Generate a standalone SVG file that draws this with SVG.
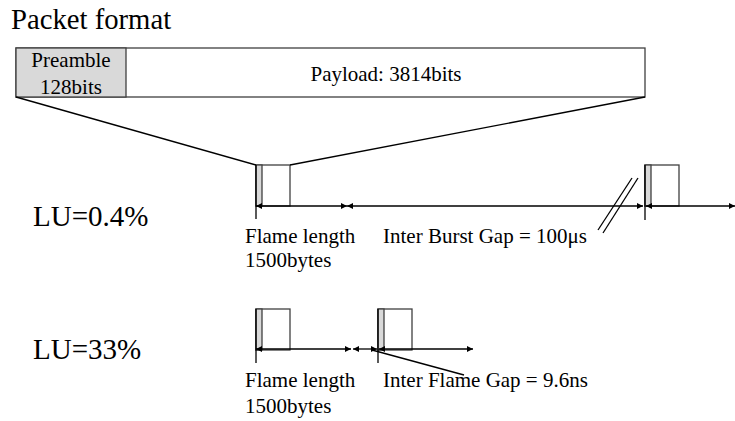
<svg xmlns="http://www.w3.org/2000/svg" width="735" height="421" viewBox="0 0 735 421">
<style>
.txt text{font-family:'Liberation Serif','DejaVu Serif',serif;fill:#000}
.s{font-size:21px}
.t{font-size:28.7px}
.u{font-size:29px}
.box{fill:#fff;stroke:#404040;stroke-width:1.3}
.pre{fill:#d9d9d9;stroke:#404040;stroke-width:1.3}
.ln{stroke:#000;stroke-width:1.3;fill:none}
.ar{stroke:#000;stroke-width:1.3;fill:none;marker-start:url(#ah);marker-end:url(#ah)}
</style>
<defs>
<marker id="ah" viewBox="0 0 10 10" refX="10" refY="5" markerWidth="7" markerHeight="6" markerUnits="userSpaceOnUse" orient="auto-start-reverse">
<path d="M0,0 L10,5 L0,10 z" fill="#000"/>
</marker>
<g id="frame">
<rect class="box" x="0" y="0" width="34" height="41"/>
<rect class="pre" x="0" y="0" width="6" height="41"/>
</g>
</defs>
<rect width="735" height="421" fill="#fff"/>
<g class="txt" font-family="Liberation Serif, DejaVu Serif, serif">
<text class="t" x="11" y="29">Packet format</text>
<g id="packet">
<rect class="box" x="16" y="48" width="629" height="49"/>
<rect class="pre" x="16" y="48" width="110" height="49"/>
<text class="s" x="71" y="67" text-anchor="middle">Preamble</text>
<text class="s" x="71" y="94" text-anchor="middle">128bits</text>
<text class="s" x="386" y="81" text-anchor="middle">Payload: 3814bits</text>
</g>
<g id="lu04">
<text class="u" x="33" y="226">LU=0.4%</text>
<use href="#frame" x="256" y="165"/>
<use href="#frame" x="645" y="165"/>
<text class="s" x="245" y="243">Flame length</text>
<text class="s" x="245" y="267">1500bytes</text>
<text class="s" x="383" y="243">Inter Burst Gap = 100μs</text>
</g>
<g id="lu33">
<text class="u" x="33" y="359">LU=33%</text>
<use href="#frame" x="256" y="309"/>
<use href="#frame" x="378" y="309"/>
<text class="s" x="245" y="387">Flame length</text>
<text class="s" x="245" y="413">1500bytes</text>
<text class="s" x="383" y="387">Inter Flame Gap = 9.6ns</text>
</g>
</g>
<g id="connectors">
<line class="ln" x1="16" y1="97" x2="256" y2="165"/>
<line class="ln" x1="645" y1="97" x2="290" y2="165"/>
<line class="ln" x1="256" y1="165" x2="256" y2="219"/>
<line class="ln" x1="645" y1="165" x2="645" y2="220"/>
<line class="ar" x1="256" y1="206" x2="347" y2="206"/>
<line class="ar" x1="347" y1="206" x2="643" y2="206"/>
<line class="ar" x1="646" y1="206" x2="735" y2="206"/>
<line class="ln" x1="598" y1="230" x2="632" y2="178"/>
<line class="ln" x1="603" y1="233" x2="638" y2="178"/>
<line class="ln" x1="256" y1="309" x2="256" y2="363"/>
<line class="ln" x1="378" y1="309" x2="378" y2="363"/>
<line class="ar" x1="256" y1="349" x2="351" y2="349"/>
<line class="ar" x1="353" y1="349" x2="377" y2="349"/>
<line class="ar" x1="379" y1="349" x2="473" y2="349"/>
<line class="ln" x1="372" y1="350" x2="464" y2="375"/>
</g>
</svg>
